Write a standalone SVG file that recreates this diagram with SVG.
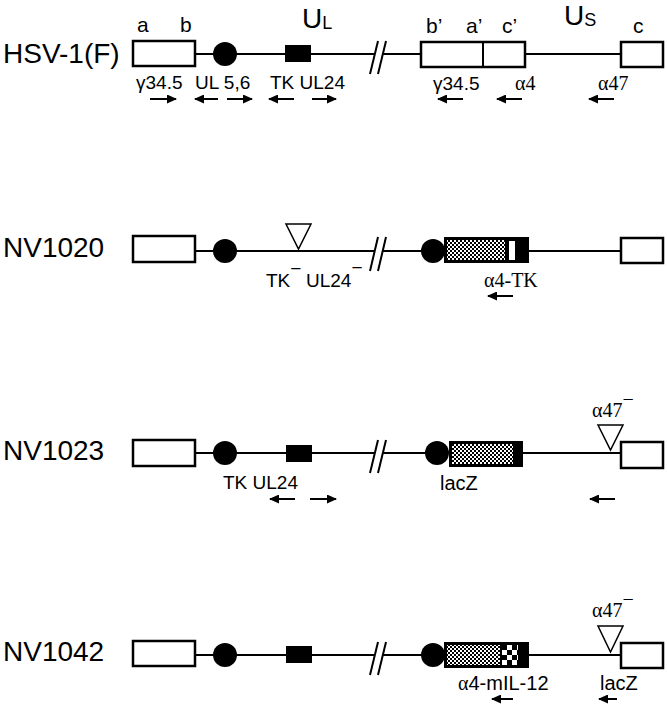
<svg xmlns="http://www.w3.org/2000/svg" width="667" height="707" viewBox="0 0 667 707">
<style>
.ln{stroke:#000;stroke-width:2;fill:none}
.box{fill:#fff;stroke:#000;stroke-width:2.5}
.blk{fill:#000}
.t{font-family:"Liberation Sans",Arial,sans-serif;fill:#000}
.s{font-family:"Liberation Serif","Times New Roman",serif;fill:#000}
.name{font-size:28px}
.lab{font-size:19px}
.sl{font-size:20px}
.let{font-size:21px}
.arr{stroke:#000;stroke-width:2;fill:none;marker-end:url(#ah)}
.tri{fill:#fff;stroke:#000;stroke-width:1.5}
</style>
<defs>
<marker id="ah" markerWidth="10" markerHeight="9" refX="9" refY="4.5" orient="auto" markerUnits="userSpaceOnUse">
<path d="M0,0 L10,4.5 L0,9 Z" fill="#000"/>
</marker>
<pattern id="fine" width="4" height="4" patternUnits="userSpaceOnUse">
<rect width="4" height="4" fill="#fff"/>
<rect width="2" height="2" fill="#000"/>
<rect x="2" y="2" width="2" height="2" fill="#000"/>
</pattern>
<pattern id="coarse" x="502" y="645" width="10" height="10" patternUnits="userSpaceOnUse">
<rect width="10" height="10" fill="#fff"/>
<rect width="5" height="5" fill="#000"/>
<rect x="5" y="5" width="5" height="5" fill="#000"/>
</pattern>
</defs>
<rect width="667" height="707" fill="#fff"/>

<g id="connectors">
<line class="ln" x1="195" y1="54" x2="374" y2="54"/>
<line class="ln" x1="382" y1="54" x2="421" y2="54"/>
<line class="ln" x1="525" y1="54" x2="621" y2="54"/>
<line class="ln" x1="370" y1="74" x2="378" y2="41"/>
<line class="ln" x1="378" y1="74" x2="386" y2="41"/>
<line class="ln" x1="195" y1="251" x2="374" y2="251"/>
<line class="ln" x1="382" y1="251" x2="433" y2="251"/>
<line class="ln" x1="529" y1="251" x2="621" y2="251"/>
<line class="ln" x1="370" y1="271" x2="378" y2="237"/>
<line class="ln" x1="378" y1="271" x2="386" y2="237"/>
<line class="ln" x1="195" y1="453" x2="374" y2="453"/>
<line class="ln" x1="382" y1="453" x2="437" y2="453"/>
<line class="ln" x1="523" y1="453" x2="621" y2="453"/>
<line class="ln" x1="370" y1="473" x2="378" y2="440"/>
<line class="ln" x1="378" y1="473" x2="386" y2="440"/>
<line class="ln" x1="195" y1="655" x2="374" y2="655"/>
<line class="ln" x1="382" y1="655" x2="433" y2="655"/>
<line class="ln" x1="529" y1="655" x2="621" y2="655"/>
<line class="ln" x1="370" y1="675" x2="378" y2="642"/>
<line class="ln" x1="378" y1="675" x2="386" y2="642"/>
</g>

<g id="hsv1f">
<text class="t name" x="3" y="63">HSV-1(F)</text>
<rect class="box" x="133" y="41" width="62" height="25"/>
<circle class="blk" cx="225" cy="54" r="12"/>
<rect class="blk" x="285" y="45" width="26" height="17"/>
<rect class="box" x="421" y="42" width="104" height="25"/>
<line class="ln" x1="483" y1="42" x2="483" y2="67" stroke-width="2.5"/>
<rect class="box" x="621" y="42" width="42" height="25"/>
<text class="t let" x="137" y="32">a</text>
<text class="t let" x="180" y="32">b</text>
<text class="t" x="302" y="28" font-size="28">U<tspan font-size="18" dy="1">L</tspan></text>
<text class="t let" x="426" y="33">b’</text>
<text class="t let" x="466" y="33">a’</text>
<text class="t let" x="502" y="33">c’</text>
<text class="t" x="564" y="25" font-size="28">U<tspan font-size="18" dy="1">S</tspan></text>
<text class="t let" x="633" y="33">c</text>
<text class="t lab" x="136" y="89">γ34.5</text>
<text class="t lab" x="195" y="89">UL 5,6</text>
<text class="t lab" x="270" y="89">TK UL24</text>
<text class="t lab" x="433" y="90">γ34.5</text>
<text class="s sl" x="515" y="90">α4</text>
<text class="s sl" x="598" y="90">α47</text>
<line class="arr" x1="150" y1="99" x2="176" y2="99"/>
<line class="arr" x1="218" y1="99" x2="195" y2="99"/>
<line class="arr" x1="227" y1="99" x2="252" y2="99"/>
<line class="arr" x1="294" y1="99" x2="269" y2="99"/>
<line class="arr" x1="312" y1="99" x2="336" y2="99"/>
<line class="arr" x1="463" y1="99" x2="438" y2="99"/>
<line class="arr" x1="522" y1="99" x2="497" y2="99"/>
<line class="arr" x1="614" y1="99" x2="589" y2="99"/>
</g>

<g id="nv1020">
<text class="t name" x="3" y="257">NV1020</text>
<rect class="box" x="133" y="236" width="62" height="26"/>
<circle class="blk" cx="225" cy="251" r="12"/>
<polygon class="tri" points="286,224 311,224 298.5,249"/>
<circle class="blk" cx="433" cy="251" r="12"/>
<rect class="blk" x="444" y="237" width="85" height="26"/>
<rect x="447" y="240" width="58" height="20" fill="url(#fine)"/>
<rect x="509" y="241" width="6" height="19" fill="#fff"/>
<rect class="box" x="621" y="238" width="42" height="25"/>
<text class="t lab" x="266" y="287">TK<tspan dy="-12">−</tspan><tspan x="306" dy="12">UL24</tspan><tspan dy="-13">−</tspan></text>
<text class="s sl" x="484" y="287">α4-TK</text>
<line class="arr" x1="513" y1="296" x2="488" y2="296"/>
</g>

<g id="nv1023">
<text class="t name" x="3" y="460">NV1023</text>
<rect class="box" x="133" y="440" width="62" height="26"/>
<circle class="blk" cx="225" cy="453" r="12"/>
<rect class="blk" x="286" y="445" width="26" height="17"/>
<circle class="blk" cx="437" cy="453" r="12"/>
<rect class="blk" x="449" y="441" width="74" height="26"/>
<rect x="452" y="444" width="61" height="20" fill="url(#fine)"/>
<polygon class="tri" points="598,425 623,425 610.5,450"/>
<rect class="box" x="621" y="442" width="42" height="26"/>
<text class="t lab" x="223" y="489">TK UL24</text>
<text class="t sl" x="440" y="490">lacZ</text>
<text class="s sl" x="592" y="417">α47<tspan dy="-11">−</tspan></text>
<line class="arr" x1="295" y1="499" x2="270" y2="499"/>
<line class="arr" x1="310" y1="499" x2="336" y2="499"/>
<line class="arr" x1="615" y1="499" x2="590" y2="499"/>
</g>

<g id="nv1042">
<text class="t name" x="3" y="661">NV1042</text>
<rect class="box" x="133" y="641" width="62" height="25"/>
<circle class="blk" cx="225" cy="655" r="12"/>
<rect class="blk" x="286" y="646" width="26" height="17"/>
<circle class="blk" cx="433" cy="655" r="12"/>
<rect class="blk" x="444" y="642" width="85" height="26"/>
<rect x="447" y="645" width="53" height="20" fill="url(#fine)"/>
<rect x="502" y="645" width="16" height="20" fill="url(#coarse)"/>
<polygon class="tri" points="598,626 623,626 610.5,652"/>
<rect class="box" x="621" y="643" width="42" height="25"/>
<text class="s sl" x="592" y="617">α47<tspan dy="-11">−</tspan></text>
<text class="t sl" x="458" y="690"><tspan class="s">α</tspan>4-mIL-12</text>
<text class="t sl" x="600" y="690">lacZ</text>
<line class="arr" x1="513" y1="699" x2="492" y2="699"/>
<line class="arr" x1="617" y1="699" x2="599" y2="699"/>
</g>
</svg>
